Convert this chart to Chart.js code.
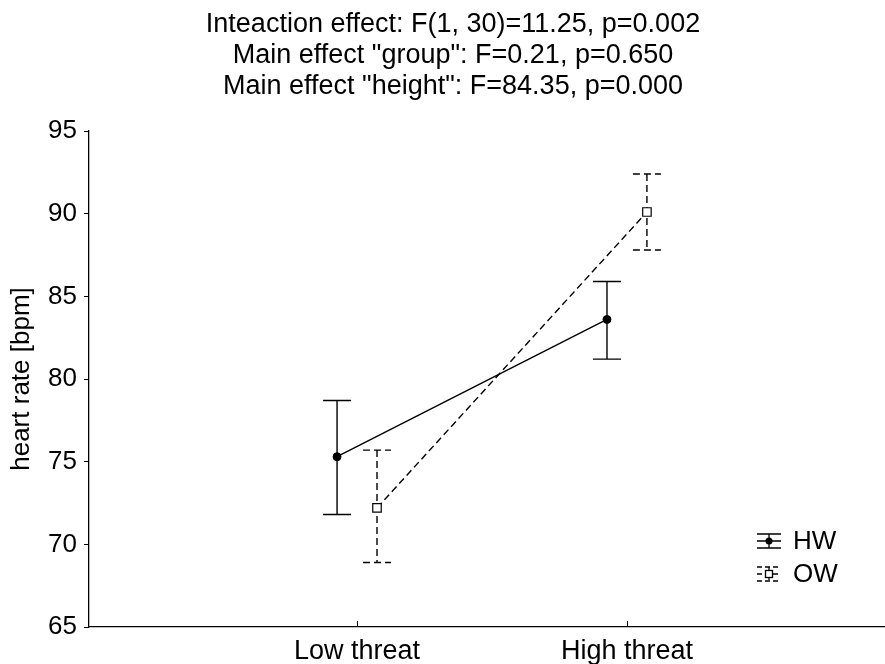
<!DOCTYPE html>
<html>
<head>
<meta charset="utf-8">
<script src="https://cdn.jsdelivr.net/npm/chart.js@4.4.1/dist/chart.umd.min.js"></script>
<style>
  body { margin: 0; background: #fff; }
  #wrap { width: 885px; height: 664px; }
</style>
</head>
<body>
<div id="wrap"><canvas id="myChart"></canvas></div>
<script>
// values
let categories = ['Low threat', 'High threat']
let titleLines = [
    'Inteaction effect: F(1, 30)=11.25, p=0.002',
    'Main effect "group": F=0.21, p=0.650',
    'Main effect "height": F=84.35, p=0.000'
]
let hwMean = [75.3, 83.6]
let hwLower = [71.8, 81.2]
let hwUpper = [78.7, 85.9]
let owMean = [72.2, 90.1]
let owLower = [68.9, 87.8]
let owUpper = [75.7, 92.4]

const FONT = "'Liberation Sans', Arial, sans-serif"
const DASH = [7, 4]
// small shift of each group left/right of the category
const hwShift = -0.074
const owShift = 0.074

function toPoints(vals, shift) {
    return vals.map((v, i) => ({x: i + 1 + shift, y: v}))
}

let groups = [
    {mean: hwMean, lower: hwLower, upper: hwUpper, shift: hwShift, dash: []},
    {mean: owMean, lower: owLower, upper: owUpper, shift: owShift, dash: DASH}
]

const errorBars = {
    id: 'errorBars',
    beforeDatasetsDraw(chart) {
        const {ctx, scales: {x, y}, chartArea} = chart
        ctx.save()
        ctx.strokeStyle = '#000'
        ctx.lineWidth = 1.4
        groups.forEach(g => {
            ctx.setLineDash(g.dash)
            g.mean.forEach((m, i) => {
                let px = x.getPixelForValue(i + 1 + g.shift)
                let top = y.getPixelForValue(g.upper[i])
                let bot = y.getPixelForValue(g.lower[i])
                ctx.beginPath()
                ctx.moveTo(px, top); ctx.lineTo(px, bot)
                ctx.moveTo(px - 14, top); ctx.lineTo(px + 14, top)
                ctx.moveTo(px - 14, bot); ctx.lineTo(px + 14, bot)
                ctx.stroke()
            })
        })
        // inner tick marks on x axis
        ctx.setLineDash([])
        ctx.lineWidth = 1
        categories.forEach((c, i) => {
            let px = Math.round(x.getPixelForValue(i + 1)) + 0.5
            ctx.beginPath()
            ctx.moveTo(px, chartArea.bottom)
            ctx.lineTo(px, chartArea.bottom - 6)
            ctx.stroke()
        })
        ctx.restore()
    },
    afterDraw(chart) {
        const {ctx, chartArea} = chart
        ctx.save()
        // title, three lines
        ctx.fillStyle = '#000'
        ctx.font = '27px ' + FONT
        ctx.textAlign = 'center'
        ctx.textBaseline = 'middle'
        titleLines.forEach((t, i) => ctx.fillText(t, 453, 25 + i * 31))

        // legend, bottom right
        let cx = chartArea.right - 116
        let tx = chartArea.right - 92
        let rows = [{y: chartArea.bottom - 86, label: 'HW'},
                    {y: chartArea.bottom - 53, label: 'OW'}]
        ctx.strokeStyle = '#000'
        ctx.lineWidth = 1.3
        rows.forEach((r, k) => {
            ctx.setLineDash(k ? [5, 3] : [])
            ctx.beginPath()
            ctx.moveTo(cx - 12, r.y - 7); ctx.lineTo(cx + 12, r.y - 7)
            ctx.moveTo(cx - 12, r.y + 7); ctx.lineTo(cx + 12, r.y + 7)
            ctx.moveTo(cx - 12, r.y); ctx.lineTo(cx + 12, r.y)
            ctx.moveTo(cx, r.y - 7); ctx.lineTo(cx, r.y + 7)
            ctx.stroke()
            ctx.setLineDash([])
            if (k == 0) {
                ctx.fillStyle = '#000'
                ctx.beginPath(); ctx.arc(cx, r.y, 3.5, 0, Math.PI * 2); ctx.fill()
            } else {
                ctx.fillStyle = '#fff'
                ctx.fillRect(cx - 3.5, r.y - 3.5, 7, 7)
                ctx.strokeRect(cx - 3.5, r.y - 3.5, 7, 7)
            }
            ctx.fillStyle = '#000'
            ctx.font = '26px ' + FONT
            ctx.textAlign = 'left'
            ctx.fillText(r.label, tx, r.y + 1)
        })
        ctx.restore()
    }
}

function renderChart() {
    var ctx = document.getElementById('myChart').getContext('2d')
    var myChart = new Chart(ctx, {
        type: 'line',
        data: {
            datasets: [{
                label: 'HW',
                data: toPoints(hwMean, hwShift),
                borderColor: '#000',
                borderWidth: 1.4,
                pointStyle: 'circle',
                pointRadius: 4,
                pointBackgroundColor: '#000',
                pointBorderColor: '#000',
                pointBorderWidth: 1
            },
            {
                label: 'OW',
                data: toPoints(owMean, owShift),
                borderColor: '#000',
                borderWidth: 1.4,
                borderDash: DASH,
                pointStyle: 'rect',
                pointRadius: 6,
                pointBackgroundColor: '#fff',
                pointBorderColor: '#000',
                pointBorderWidth: 1.2
            }]
        },
        options: {
            responsive: true,
            maintainAspectRatio: false,
            animation: false,
            layout: {padding: {top: 131, left: 0, right: 0, bottom: 0}, autoPadding: false},
            plugins: {
                legend: {display: false},
                tooltip: {enabled: false},
                title: {display: false}
            },
            scales: {
                x: {
                    type: 'linear',
                    min: 0.007,
                    max: 2.956,
                    afterBuildTicks: s => { s.ticks = categories.map((c, i) => ({value: i + 1})) },
                    afterFit: s => { s.height = 37 },
                    grid: {display: false, drawTicks: false, tickLength: 0},
                    border: {display: true, color: '#000', width: 1.3},
                    ticks: {
                        color: '#000',
                        font: {family: FONT, size: 27},
                        padding: 8,
                        autoSkip: false,
                        maxRotation: 0,
                        callback: v => categories[v - 1]
                    }
                },
                y: {
                    min: 65,
                    max: 95,
                    afterFit: s => { s.width = 89 },
                    grid: {display: true, drawOnChartArea: false, drawTicks: true, tickLength: 5, color: '#000'},
                    border: {display: true, color: '#000', width: 1.3},
                    ticks: {
                        stepSize: 5,
                        color: '#000',
                        font: {family: FONT, size: 26},
                        padding: 7
                    },
                    title: {
                        display: true,
                        text: 'heart rate [bpm]',
                        color: '#000',
                        font: {family: FONT, size: 26},
                        padding: {top: 6, bottom: 0}
                    }
                }
            }
        },
        plugins: [errorBars]
    })
}
renderChart()
</script>
</body>
</html>
